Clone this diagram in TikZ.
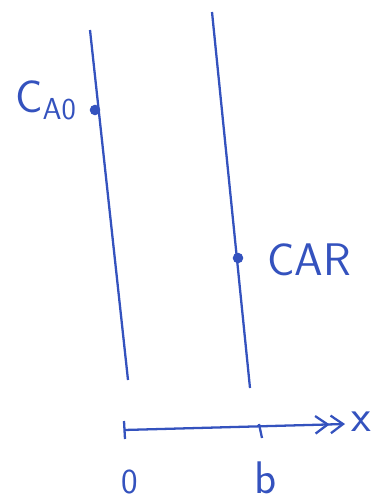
\documentclass[tikz,border=0pt]{standalone}
\usepackage{tikz}
\usetikzlibrary{arrows.meta}
\definecolor{pen}{RGB}{52,82,190}
\tikzset{wall/.style={draw=pen, line width=1.3pt},
  spot/.style={circle, fill=pen, inner sep=0pt, minimum size=6pt},
  lbl/.style={text=pen, font=\sffamily\fontsize{26}{28}\selectfont}}

\begin{document}
\begin{tikzpicture}[x=0.02cm, y=-0.02cm, line width=1.3pt]
  \useasboundingbox (0,0) rectangle (388,500);

  % ---------- the two boundaries ----------
  \coordinate (lt) at (90,30);   \coordinate (lb) at (128,380);
  \coordinate (rt) at (212,12);  \coordinate (rb) at (250,388);
  \draw[wall] (lt) -- (lb);
  \draw[wall] (rt) -- (rb);
  \node[spot] (inlet) at (95,110) {};
  \node[spot] (outlet) at (238,258) {};
  \node[lbl, anchor=east, inner sep=0pt] (cin) at (78,100) {C$_{\mathsf{A0}}$};
  \node[lbl, anchor=west, inner sep=0pt] (cout) at (266,260) {CAR};

  % ---------- x axis ----------
  \coordinate (o) at (124,430);
  \coordinate (tip) at (345,424);
  \draw[pen, -{Straight Barb[length=7pt,width=10pt]Straight Barb[length=7pt,width=10pt]}] (o) -- (tip);
  \draw[pen] (124,421) -- (125,439);
  \draw[pen] (259,424) -- (262,438);
  \node[lbl, anchor=west, inner sep=0pt] (xlab) at (350,422) {x};
  \node[lbl, font=\sffamily\fontsize{20}{22}\selectfont] (zero) at (130,482) {0};
  \node[lbl] (blab) at (266,478) {b};
\end{tikzpicture}
\end{document}
